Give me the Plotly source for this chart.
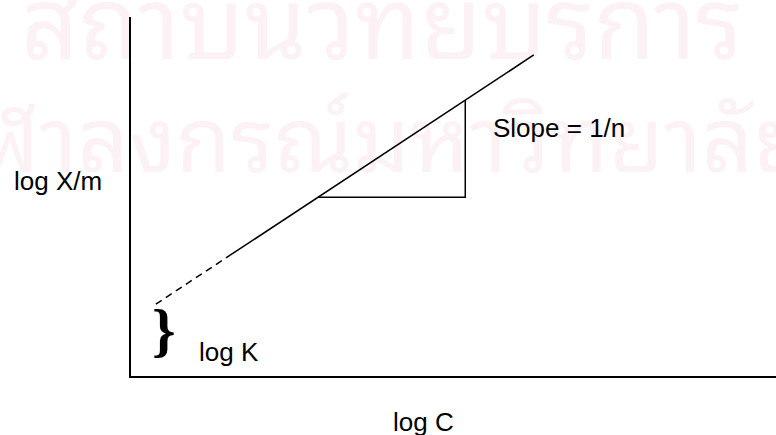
import plotly.graph_objects as go

# Freundlich isotherm, linear form: log X/m = log K + (1/n) log C
log_k = 0.93          # intercept
slope = 0.71          # 1/n
x_dashed = [0.4, 1.55]   # extrapolated part of the line
x_solid = [1.55, 6.25]   # measured range
x_tri = [2.91, 5.19]     # slope triangle run
x_axis_len = 10.0
y_axis_len = 6.0

axis_labels = {"x": "log C", "y": "log X/m"}
slope_label = "Slope = 1/n"
intercept_label = "log K"
watermark = ["สถาบันวิทยบริการ", "จุฬาลงกรณ์มหาวิทยาลัย"]

def line_y(xs):
    return [log_k + slope * x for x in xs]

FONT = "Liberation Sans, Arial, sans-serif"
THAI = "Noto Sans Thai Looped, Noto Sans Thai, sans-serif"
fig = go.Figure()

# axes
fig.add_trace(go.Scatter(x=[0, 0, x_axis_len], y=[y_axis_len, 0, 0], mode="lines",
                         line=dict(color="black", width=2), hoverinfo="skip"))
# extrapolated and measured parts of the line
fig.add_trace(go.Scatter(x=x_dashed, y=line_y(x_dashed), mode="lines",
                         line=dict(color="black", width=1.5, dash="7px,5px")))
fig.add_trace(go.Scatter(x=x_solid, y=line_y(x_solid), mode="lines",
                         line=dict(color="black", width=1.6)))
# slope triangle
y_lo, y_hi = line_y(x_tri)
fig.add_trace(go.Scatter(x=[x_tri[0], x_tri[1], x_tri[1]], y=[y_lo, y_lo, y_hi],
                         mode="lines", line=dict(color="black", width=1.5)))

# faint watermark, drawn below the traces
W, H = 776, 435
for text, left_px, mid_px, size in [(watermark[0], 18, 39, 100),
                                    (watermark[1], -75, 154, 90)]:
    fig.add_shape(
        type="rect", xref="paper", yref="paper", layer="below",
        x0=left_px / W, x1=(left_px + 10) / W,
        y0=1 - (mid_px + 5) / H, y1=1 - (mid_px - 5) / H,
        line=dict(width=0), fillcolor="rgba(0,0,0,0)",
        label=dict(text=text, textposition="middle left", padding=0,
                   xanchor="left", yanchor="middle",
                   font=dict(family=THAI, size=size, color="rgb(252,241,245)")),
    )

label_font = dict(family=FONT, size=26, color="black")
fig.add_annotation(x=-1.82, y=3.27, text=axis_labels["y"], showarrow=False,
                   xanchor="left", yanchor="middle", font=label_font)
fig.add_annotation(x=4.55, y=-0.75, text=axis_labels["x"], showarrow=False,
                   xanchor="center", yanchor="middle", font=label_font)
fig.add_annotation(x=5.59, y=4.15, text=slope_label, showarrow=False,
                   xanchor="left", yanchor="middle", font=label_font)
fig.add_annotation(x=1.04, y=0.42, text=intercept_label, showarrow=False,
                   xanchor="left", yanchor="middle", font=label_font)
# brace marking the intercept
fig.add_annotation(x=0.53, y=0.78, text="<b>}</b>", showarrow=False,
                   xanchor="center", yanchor="middle",
                   font=dict(family="Liberation Serif, serif", size=60, color="black"))

fig.update_layout(
    width=W, height=H, margin=dict(l=0, r=0, t=0, b=0),
    paper_bgcolor="white", plot_bgcolor="rgba(0,0,0,0)", showlegend=False,
    xaxis=dict(range=[-130 / 64.6, 646 / 64.6], visible=False, fixedrange=True),
    yaxis=dict(range=[-58 / 60, 377 / 60], visible=False, fixedrange=True),
)

fig.write_html("out.html")
